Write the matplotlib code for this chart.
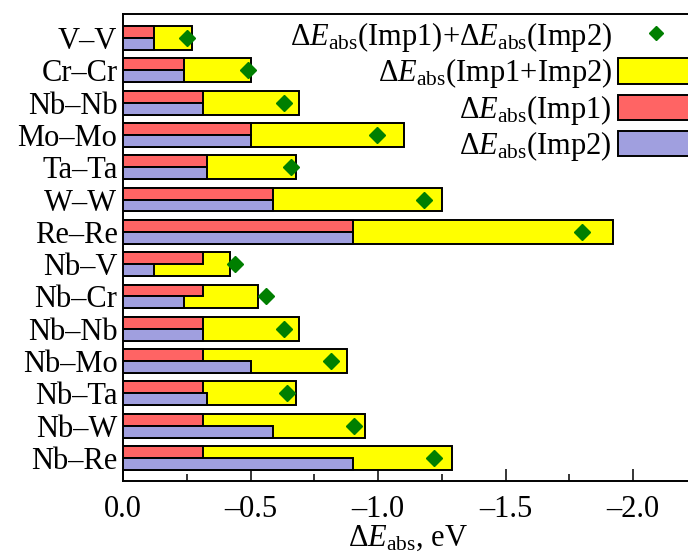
import numpy as np
import matplotlib
matplotlib.use('Agg')
from matplotlib import pyplot as plt
from matplotlib.patches import Patch
from matplotlib.lines import Line2D
from matplotlib.ticker import MultipleLocator

plt.rcParams['font.family'] = ['Liberation Serif', 'DejaVu Serif']
plt.rcParams['mathtext.fontset'] = 'custom'
plt.rcParams['mathtext.rm'] = 'Liberation Serif'
plt.rcParams['mathtext.it'] = 'Liberation Serif:italic'

# pairs, top to bottom
pairs = ['V–V', 'Cr–Cr', 'Nb–Nb', 'Mo–Mo', 'Ta–Ta', 'W–W', 'Re–Re',
         'Nb–V', 'Nb–Cr', 'Nb–Nb', 'Nb–Mo', 'Nb–Ta', 'Nb–W', 'Nb–Re']

# energies in eV
imp1 = [-0.12, -0.24, -0.315, -0.50, -0.33, -0.59, -0.90,
        -0.315, -0.315, -0.315, -0.315, -0.315, -0.315, -0.315]
imp2 = [-0.12, -0.24, -0.315, -0.50, -0.33, -0.59, -0.90,
        -0.12, -0.24, -0.315, -0.50, -0.33, -0.59, -0.90]
both = [-0.27, -0.50, -0.69, -1.10, -0.68, -1.25, -1.92,
        -0.42, -0.53, -0.69, -0.88, -0.68, -0.95, -1.29]
summed = [-0.25, -0.49, -0.63, -0.995, -0.66, -1.18, -1.80,
          -0.44, -0.56, -0.63, -0.815, -0.645, -0.905, -1.22]

c_yel = '#ffff00'
c_red = '#ff6464'
c_blu = '#a09fdf'
c_grn = '#007f00'
fs = 22

fig = plt.figure(figsize=(6.88, 5.52), dpi=100)
ax = fig.add_axes([123/688, 71/552, 570/688, 467/552])

y = np.arange(len(pairs))
h = 0.74
ax.barh(y, both, height=h, color=c_yel, edgecolor='black', linewidth=1.4, zorder=2)
ax.barh(y - h/4, imp1, height=h/2, color=c_red, edgecolor='black', linewidth=1.4, zorder=3)
ax.barh(y + h/4, imp2, height=h/2, color=c_blu, edgecolor='black', linewidth=1.4, zorder=3)
ax.plot(summed, y, linestyle='none', marker='D', markersize=8.6, color=c_grn, zorder=4)

ax.set_xlim(0, -2.235)
ax.set_ylim(len(pairs) - 1 + 0.71, -0.74)
ax.set_yticks(y)
ax.set_yticklabels(pairs)
ax.xaxis.set_major_locator(MultipleLocator(0.5))
ax.xaxis.set_minor_locator(MultipleLocator(0.25))
ax.set_xticklabels([f'{v:.1f}'.replace('-', '–') for v in ax.get_xticks()])
ax.tick_params(axis='x', which='major', direction='in', length=8.5, width=1.1, labelsize=fs, pad=10)
ax.tick_params(axis='x', which='minor', direction='in', length=5, width=1.1)
ax.tick_params(axis='y', length=0, labelsize=fs, pad=4)
for s in ax.spines.values():
    s.set_linewidth(1.4)
ax.set_xlabel(r'Δ$E_{\rm abs}$, eV', fontsize=fs, labelpad=0)

handles = [
    Line2D([], [], linestyle='none', marker='D', markersize=7.5, color=c_grn),
    Patch(facecolor=c_yel, edgecolor='black', linewidth=1.4),
    Patch(facecolor=c_red, edgecolor='black', linewidth=1.4),
    Patch(facecolor=c_blu, edgecolor='black', linewidth=1.4),
]
labels = [r'Δ$E_{\rm abs}$(Imp1)+Δ$E_{\rm abs}$(Imp2)',
          r'Δ$E_{\rm abs}$(Imp1+Imp2)',
          r'Δ$E_{\rm abs}$(Imp1)',
          r'Δ$E_{\rm abs}$(Imp2)']
fig.legend(handles, labels, loc='upper right', bbox_to_anchor=(693/688, 1 - 20/552),
           frameon=False, markerfirst=False, fontsize=fs, borderpad=0, borderaxespad=0,
           handlelength=2.45, handleheight=0.9, handletextpad=0.2, labelspacing=0.08)

plt.savefig('out.png', dpi=100)
